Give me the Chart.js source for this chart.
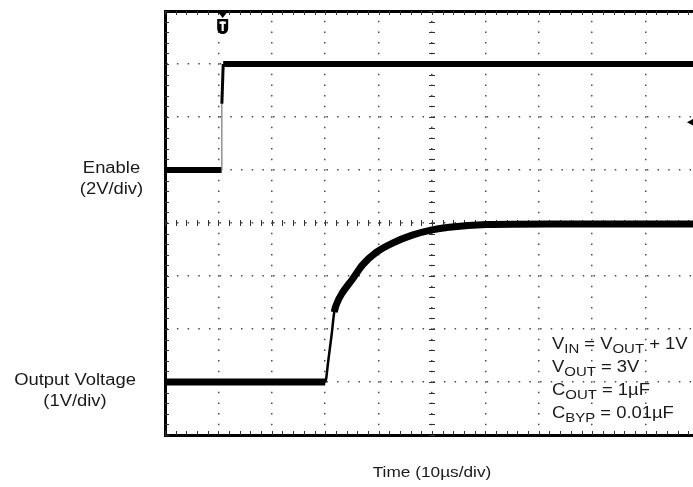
<!DOCTYPE html>
<html lang="en">
<head>
  <meta charset="UTF-8" />
  <title>Enable turn-on response</title>
  <script src="https://cdn.jsdelivr.net/npm/chart.js"></script>
  <style>
    html, body { margin: 0; padding: 0; overflow: hidden; background: #fff; }
    #wrap { position: absolute; left: 0; top: 0; width: 710px; height: 487px; }
  </style>
</head>
<body>
  <div id="wrap"><canvas id="scope" width="710" height="487"></canvas></div>

  <script>
    // both axes are in scope divisions: 10 across (10us/div), 8 down
    const enableX = [0, 1.06, 1.065, 1.09, 10];
    const enableY = [5.0, 5.0, 6.25, 7.0, 7.0];

    const outX = [0, 3.0, 3.06, 3.12, 3.17, 3.23, 3.32, 3.51, 3.70, 3.96, 4.26, 4.63, 5.00, 5.32, 6.02, 7.2, 10];
    const outY = [1.0, 1.0, 1.42, 1.89, 2.32, 2.51, 2.68, 2.94, 3.21, 3.45, 3.62, 3.77, 3.87, 3.92, 3.97, 3.98, 3.98];

    const trigX = 1.08;      // trigger marker at top
    const levelMarkY = 5.9;  // channel marker on right edge
    const divX = 10, divY = 8;

    const leftLabels = [
      { lines: ['Enable', '(2V/div)'], x: 111.5, y: 173 },
      { lines: ['Output Voltage', '(1V/div)'], x: 75, y: 385 }
    ];
    const timeLabel = 'Time (10\u00b5s/div)';
    const noteLines = [
      [['V'], ['IN', 1], [' = V'], ['OUT', 1], [' + 1V']],
      [['V'], ['OUT', 1], [' = 3V']],
      [['C'], ['OUT', 1], [' = 1\u00b5F']],
      [['C'], ['BYP', 1], [' = 0.01\u00b5F']]
    ];

    const SX = 1.15; // the scan is a bit stretched sideways
    const FONT = '"Liberation Sans", Arial, sans-serif';

    function drawRuns(ctx, parts, x, y, size, align) {
      const subSize = Math.round(size * 0.8);
      let w = 0;
      parts.forEach(p => {
        ctx.font = (p[1] ? subSize : size) + 'px ' + FONT;
        w += ctx.measureText(p[0]).width;
      });
      ctx.save();
      ctx.translate(x, y);
      ctx.scale(SX, 1);
      let cx = align === 'center' ? -w / 2 : 0;
      ctx.textAlign = 'left';
      ctx.textBaseline = 'alphabetic';
      parts.forEach(p => {
        ctx.font = (p[1] ? subSize : size) + 'px ' + FONT;
        ctx.fillText(p[0], cx, p[1] ? 4 : 0);
        cx += ctx.measureText(p[0]).width;
      });
      ctx.restore();
    }

    const scopeDecor = {
      id: 'scopeDecor',
      beforeDatasetsDraw(chart) {
        const { ctx, chartArea: a, scales: { x, y } } = chart;
        const cx = x.getPixelForValue(divX / 2);
        const cy = y.getPixelForValue(divY / 2);
        ctx.save();
        ctx.strokeStyle = '#333';
        ctx.lineWidth = 1;
        ctx.beginPath();
        for (let i = 0; i <= divX * 5; i++) {
          const px = Math.round(x.getPixelForValue(i / 5)) + 0.5;
          ctx.moveTo(px, a.bottom); ctx.lineTo(px, a.bottom - 4);
          ctx.moveTo(px, a.top); ctx.lineTo(px, a.top + 4);
          ctx.moveTo(px, cy - 3); ctx.lineTo(px, cy + 3);
        }
        for (let j = 0; j <= divY * 5; j++) {
          const py = Math.round(y.getPixelForValue(j / 5)) + 0.5;
          ctx.moveTo(a.left, py); ctx.lineTo(a.left + 4, py);
          ctx.moveTo(cx - 3, py); ctx.lineTo(cx + 3, py);
        }
        ctx.stroke();
        ctx.restore();
      },
      afterDraw(chart) {
        const { ctx, chartArea: a, scales: { x, y } } = chart;
        ctx.save();
        ctx.fillStyle = '#000';

        // trigger marker
        const tx = x.getPixelForValue(trigX);
        ctx.beginPath();
        ctx.moveTo(tx - 5.5, a.top); ctx.lineTo(tx + 5.5, a.top); ctx.lineTo(tx, a.top + 7);
        ctx.closePath(); ctx.fill();
        ctx.beginPath();
        ctx.moveTo(tx - 5.5, 19); ctx.lineTo(tx + 5.5, 19); ctx.lineTo(tx + 5.5, 28.5);
        ctx.arc(tx, 28.5, 5.5, 0, Math.PI); ctx.closePath(); ctx.fill();
        ctx.fillStyle = '#fff';
        ctx.fillRect(tx - 3.2, 21.5, 6.4, 2.4);
        ctx.fillRect(tx - 1.1, 21.5, 2.2, 9.5);

        // level marker, right edge
        ctx.fillStyle = '#000';
        const my = y.getPixelForValue(levelMarkY);
        ctx.beginPath();
        ctx.moveTo(a.right - 12, my); ctx.lineTo(a.right, my - 6.5); ctx.lineTo(a.right, my + 6.5);
        ctx.closePath(); ctx.fill();

        // texts
        ctx.fillStyle = '#1a1a1a';
        leftLabels.forEach(l => {
          l.lines.forEach((t, k) => drawRuns(ctx, [[t]], l.x, l.y + k * 21, 16, 'center'));
        });
        drawRuns(ctx, [[timeLabel]], (a.left + a.right) / 2, 477, 15, 'center');
        noteLines.forEach((parts, k) => drawRuns(ctx, parts, 552, 349 + k * 23, 16, 'left'));
        ctx.restore();
      }
    };

    const toPts = (xs, ys) => xs.map((v, i) => ({ x: v, y: ys[i] }));

    new Chart(document.getElementById('scope'), {
      type: 'line',
      data: {
        datasets: [
          {
            data: toPts(enableX, enableY),
            borderColor: '#000',
            borderWidth: 6,
            pointRadius: 0,
            segment: {
              borderWidth: c => c.p0DataIndex === 1 ? 1.2 : (c.p0DataIndex === 2 ? 3 : 6),
              borderColor: c => c.p0DataIndex === 1 ? '#777' : '#000'
            }
          },
          {
            data: toPts(outX, outY),
            borderColor: '#000',
            borderWidth: 6,
            pointRadius: 0,
            cubicInterpolationMode: 'monotone',
            segment: {
              borderWidth: c => {
                const dx = Math.abs(c.p1.x - c.p0.x) || 0.01;
                return Math.abs(c.p1.y - c.p0.y) / dx > 4 ? 2.5 : 7;
              }
            }
          }
        ]
      },
      options: {
        responsive: false,
        animation: false,
        events: [],
        layout: { padding: { left: 165, top: 11, right: 11, bottom: 52 } },
        plugins: { legend: { display: false }, tooltip: { enabled: false } },
        scales: {
          x: {
            type: 'linear', min: 0, max: divX,
            ticks: { display: false, stepSize: 1 },
            grid: { color: '#4a4a4a', lineWidth: 1.5, drawTicks: false },
            border: { color: '#000', width: 3, dash: [1.5, 9.1], dashOffset: 0.75 }
          },
          xTop: {
            type: 'linear', position: 'top', min: 0, max: divX,
            ticks: { display: false },
            grid: { display: false, drawTicks: false },
            border: { color: '#000', width: 3 }
          },
          y: {
            type: 'linear', min: 0, max: divY,
            ticks: { display: false, stepSize: 1 },
            grid: { color: '#4a4a4a', lineWidth: 1.5, drawTicks: false },
            border: { color: '#000', width: 3, dash: [1.5, 9.18], dashOffset: 0.75 }
          }
        }
      },
      plugins: [scopeDecor]
    });
  </script>
</body>
</html>
